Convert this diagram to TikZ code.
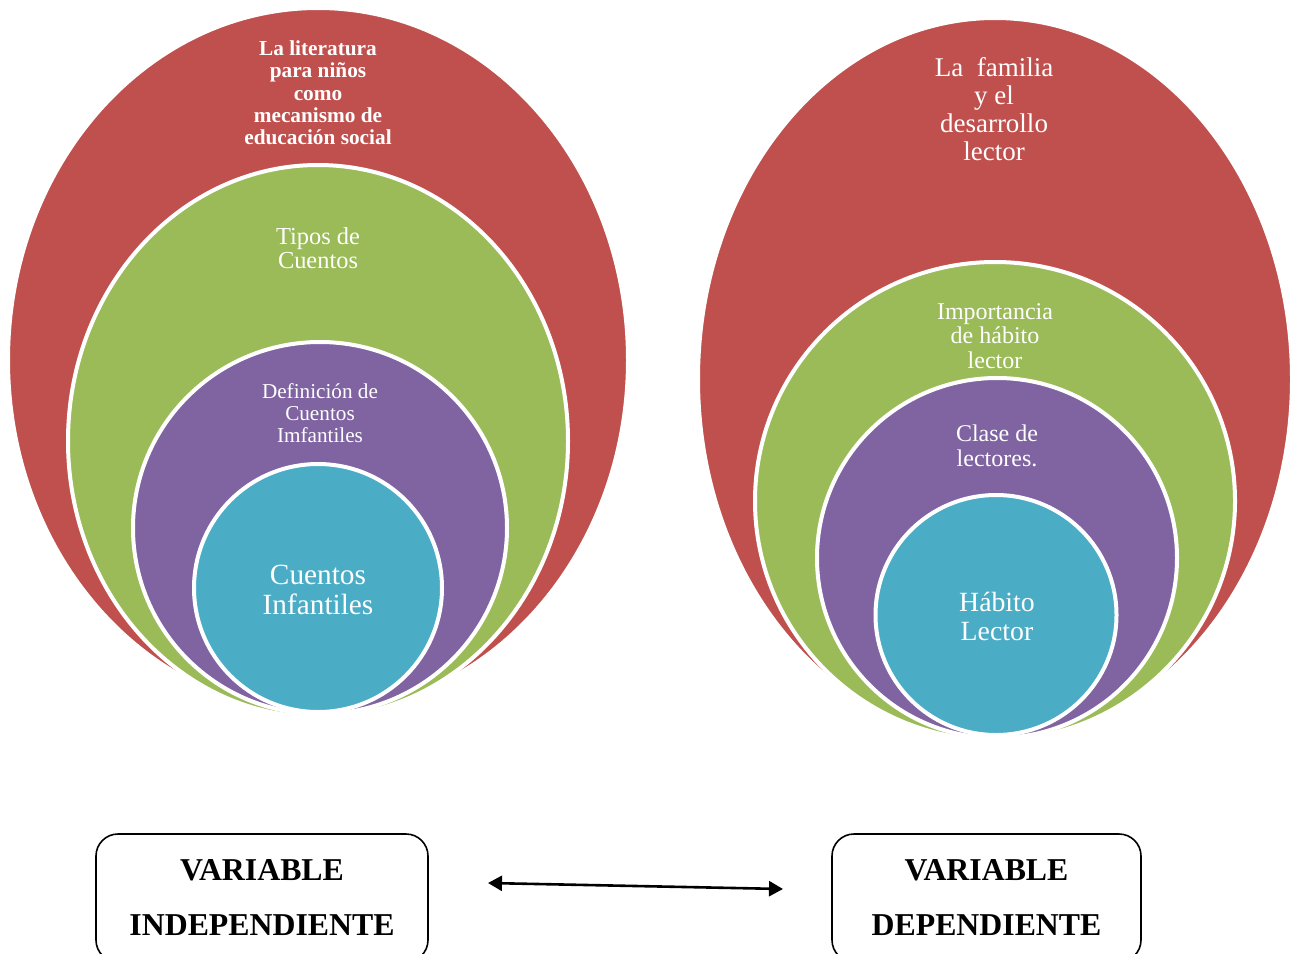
\documentclass[tikz,border=0pt]{standalone}
\usepackage{fontspec}
\setmainfont{Liberation Serif}
\usetikzlibrary{shapes.geometric,arrows.meta}
\definecolor{cred}{HTML}{C0504D}
\definecolor{cgreen}{HTML}{9BBB59}
\definecolor{cpurple}{HTML}{8064A2}
\definecolor{cblue}{HTML}{4BACC6}
\begin{document}
\begin{tikzpicture}[x=1pt,y=-1pt]
\tikzset{
  ring/.style={ellipse, draw=white, line width=4pt, inner sep=0pt, outer sep=0pt},
  lbl/.style={text=white, align=center, inner sep=0pt},
  varbox/.style={draw=black, line width=1.6pt, rounded corners=22pt, align=center,
     font=\bfseries\fontsize{31.8}{55}\selectfont, inner sep=0pt},
  biarrow/.style={line width=2.6pt, {Triangle[length=14pt,width=15pt]}-{Triangle[length=14pt,width=15pt]}},
}
\clip (0,0) rectangle (1298,953);
\fill[white] (0,0) rectangle (1298,953);
% left set
\node[ring, fill=cred, minimum width=620pt, minimum height=704pt] (LR) at (318,360) {};
\node[ring, fill=cgreen, minimum width=500pt, minimum height=552pt] (LG) at (318,441) {};
\node[ring, fill=cpurple, minimum width=374pt, minimum height=372pt] (LP) at (320,528) {};
\node[ring, fill=cblue, minimum width=248pt, minimum height=248pt] (LB) at (318,588) {};
% right set
\node[ring, fill=cred, minimum width=594pt, minimum height=722pt] (RR) at (995,379) {};
\node[ring, fill=cgreen, minimum width=480pt, minimum height=478pt] (RG) at (995,501) {};
\node[ring, fill=cpurple, minimum width=360pt, minimum height=360pt] (RP) at (997,558) {};
\node[ring, fill=cblue, minimum width=241pt, minimum height=240pt] (RB) at (996,615) {};
% labels left
\node[lbl, font=\bfseries\fontsize{21.3}{22.3}\selectfont] (tLR) at (318,93) {La literatura\\para niños\\como\\mecanismo de\\educación social};
\node[lbl, font=\fontsize{24.4}{24.5}\selectfont] (tLG) at (318,248) {Tipos de\\Cuentos};
\node[lbl, font=\fontsize{21.2}{22}\selectfont] (tLP) at (320,413) {Definición de\\Cuentos\\Imfantiles};
\node[lbl, font=\fontsize{29.3}{30}\selectfont] (tLB) at (318,590) {Cuentos\\Infantiles};
% labels right
\node[lbl, font=\fontsize{27}{28}\selectfont] (tRR) at (994,109) {La\ \ familia\\y el\\desarrollo\\lector};
\node[lbl, font=\fontsize{24}{24.5}\selectfont] (tRG) at (995,336) {Importancia\\de hábito\\lector};
\node[lbl, font=\fontsize{24}{25}\selectfont] (tRP) at (997,446) {Clase de\\lectores.};
\node[lbl, font=\fontsize{27.8}{29}\selectfont] (tRB) at (997,616) {Hábito\\Lector};
% variable boxes
\node[varbox, minimum width=332pt, minimum height=128pt] (VI) at (262,898) {VARIABLE\\INDEPENDIENTE};
\node[varbox, minimum width=309pt, minimum height=128pt] (VD) at (986.5,898) {VARIABLE\\DEPENDIENTE};
% arrow
\coordinate (aL) at (488,883);
\coordinate (aR) at (783,889);
\draw[biarrow] (aL) -- (aR);
\end{tikzpicture}
\end{document}
